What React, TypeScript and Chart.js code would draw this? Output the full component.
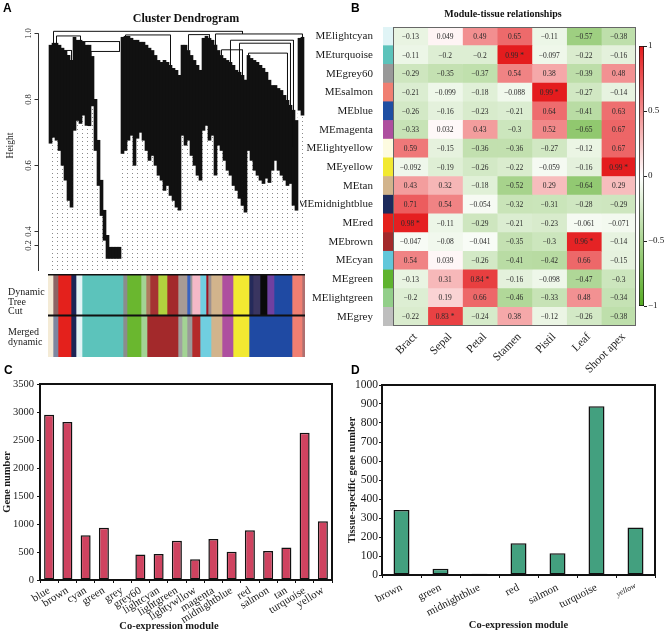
import React, { useEffect, useRef } from 'react';
import { Chart, registerables } from 'chart.js';
Chart.register(...registerables);

const SERIF = '"Liberation Serif", "Times New Roman", serif';
const SANS = '"Liberation Sans", Arial, sans-serif';
Chart.defaults.font.family = SERIF;
Chart.defaults.color = '#1a1a1a';

// ---------------- Panel A: dendrogram (leaf order bins) ----------------
const dendroHi = [
  0.964, 0.97, 0.97, 0.964, 0.955, 0.948, 0.933, 0.918,
  0.988, 0.979, 0.979, 0.973, 0.964, 0.964,
  0.93, 0.8, 0.676, 0.555, 0.464, 0.388, 0.352, 0.352, 0.352, 0.352,
  0.988, 0.991, 0.991, 0.985, 0.979, 0.979, 0.973, 0.973, 0.964, 0.955,
  0.948, 0.933, 0.918, 0.912, 0.918, 0.912, 0.903, 0.894, 0.888, 0.873,
  0.964, 0.964, 0.948, 0.933, 0.918, 0.903, 0.888,
  0.985, 0.991, 0.985, 0.979, 0.964, 0.948,
  0.933, 0.924, 0.918, 0.912, 0.903, 0.888, 0.882, 0.873, 0.858,
  0.933, 0.924, 0.918, 0.912, 0.903, 0.894, 0.882, 0.858, 0.842,
  0.842, 0.833, 0.827, 0.812, 0.797, 0.782, 0.767, 0.736,
  0.985, 0.988,
];
const dendroLo = [
  0.667, 0.685, 0.676, 0.645, 0.6, 0.555, 0.494, 0.473,
  0.706, 0.736, 0.727, 0.752, 0.721, 0.72,
  0.78, 0.645, 0.539, 0.448, 0.373, 0.318, 0.318, 0.318, 0.318, 0.318,
  0.636, 0.645, 0.676, 0.691, 0.6, 0.682, 0.7, 0.676, 0.645, 0.615,
  0.63, 0.6, 0.57, 0.555, 0.524, 0.539, 0.509, 0.494, 0.473, 0.464,
  0.691, 0.661, 0.676, 0.63, 0.6, 0.57, 0.555,
  0.706, 0.721, 0.676, 0.691, 0.57, 0.661,
  0.645, 0.615, 0.585, 0.57, 0.539, 0.524, 0.5, 0.479, 0.458,
  0.645, 0.615, 0.585, 0.57, 0.555, 0.545, 0.561, 0.548, 0.585,
  0.615, 0.585, 0.57, 0.555, 0.539, 0.545, 0.479, 0.464,
  0.767, 0.752,
];
// merges: [leftLeaf, rightLeaf, height, leftChildHeight, rightChildHeight]
const dendroMerges = [
  [1, 64, 1.006, 0.97, 0.998],
  [55, 84, 0.998, 0.964, 0.988],
  [2, 10, 0.992, 0.97, 0.979],
  [4, 7, 0.948, 0.94, 0.918],
  [10, 23, 0.975, 0.964, 0.945],
  [13.5, 23, 0.945, 0.93, 0.945],
  [25, 40, 0.995, 0.991, 0.903],
  [46, 53, 0.996, 0.948, 0.985],
  [57, 64, 0.95, 0.933, 0.873],
  [60, 81, 0.979, 0.912, 0.655],
  [63, 80, 0.97, 0.882, 0.782],
  [66, 79, 0.94, 0.933, 0.797],
];
const dendroTickValues = [1.0, 0.8, 0.6, 0.4, 0.36];
const dendroTickLabels = ['1.0', '0.8', '0.6', '0.4', '0.2'];
const dendroMin = 0.28;
const dendroMax = 1.01;

const treeCutModuleColors = ['#f4ebd6', '#8c6464', '#e4211c', '#1c2456', '#e4f4f6', '#5cc3bb', '#8c8c8c', '#6ab72f', '#a3d394', '#b07a5e', '#a53232', '#b2d23e', '#a3292b', '#a99b95', '#3a62c0', '#9a9a9a', '#f5b8c7', '#70cfe0', '#a0121e', '#9a9090', '#d2b48c', '#ae4f9f', '#f2e931', '#252a5a', '#3a3560', '#0a0a0a', '#7040a0', '#1f4aa3', '#f07f72', '#b07070'];
const treeCutModuleSizes = [5, 5, 13, 5, 6, 41, 4, 14, 5, 4, 8, 9, 11, 9, 3, 2, 8, 6, 2, 3, 11, 11, 16, 4, 7, 7, 7, 18, 10, 3];
const mergedModuleColors = ['#f4ebd6', '#7d86a0', '#e4211c', '#1c2456', '#e4f4f6', '#5cc3bb', '#8c8c8c', '#6ab72f', '#a3d394', '#a3292b', '#a0a0a0', '#a3d394', '#9a9a9a', '#b32a2a', '#70cfe0', '#d2b48c', '#ae4f9f', '#f2e931', '#1f4aa3', '#f07f72', '#b07070'];
const mergedModuleSizes = [5, 5, 13, 5, 6, 41, 4, 14, 6, 31, 4, 5, 5, 8, 11, 11, 11, 16, 43, 10, 3];

// ---------------- Panel B: module–tissue heatmap ----------------
const heatRows = ['MElightcyan', 'MEturquoise', 'MEgrey60', 'MEsalmon', 'MEblue', 'MEmagenta', 'MElightyellow', 'MEyellow', 'MEtan', 'MEmidnightblue', 'MEred', 'MEbrown', 'MEcyan', 'MEgreen', 'MElightgreen', 'MEgrey'];
const heatRowColors = ['#e0f4f6', '#5cc3bb', '#999999', '#f07f72', '#1f4fa3', '#ae4f9f', '#fdfbe0', '#f2e931', '#d2b48c', '#1c2a5c', '#e4211c', '#a3292b', '#62c7da', '#5fb42e', '#93cf8a', '#bebebe'];
const tissues = ['Bract', 'Sepal', 'Petal', 'Stamen', 'Pistil', 'Leaf', 'Shoot apex'];
const corBract = [-0.13, -0.11, -0.29, -0.21, -0.26, -0.33, 0.59, -0.092, 0.43, 0.71, 0.98, -0.047, 0.54, -0.13, -0.2, -0.22];
const corSepal = [0.049, -0.2, -0.35, -0.099, -0.16, 0.032, -0.15, -0.19, 0.32, 0.54, -0.11, -0.08, 0.039, 0.31, 0.19, 0.83];
const corPetal = [0.49, -0.2, -0.37, -0.18, -0.23, 0.43, -0.36, -0.26, -0.18, -0.054, -0.29, -0.041, -0.26, 0.84, 0.66, -0.24];
const corStamen = [0.65, 0.99, 0.54, -0.088, -0.21, -0.3, -0.36, -0.22, -0.52, -0.32, -0.21, -0.35, -0.41, -0.16, -0.46, 0.38];
const corPistil = [-0.11, -0.097, 0.38, 0.99, 0.64, 0.52, -0.27, -0.059, 0.29, -0.31, -0.23, -0.3, -0.42, -0.098, -0.33, -0.12];
const corLeaf = [-0.57, -0.22, -0.39, -0.27, -0.41, -0.65, -0.12, -0.16, -0.64, -0.28, -0.061, 0.96, 0.66, -0.47, 0.48, -0.26];
const corShootApex = [-0.38, -0.16, 0.48, -0.14, 0.63, 0.67, 0.67, 0.99, 0.29, -0.29, -0.071, -0.14, -0.15, -0.3, -0.34, -0.38];
const corByTissue = [corBract, corSepal, corPetal, corStamen, corPistil, corLeaf, corShootApex];
const significantThreshold = 0.8;
const legendTicks = [-1, -0.5, 0, 0.5, 1];

// ---------------- Panel C ----------------
const cModules = ['blue', 'brown', 'cyan', 'green', 'grey', 'grey60', 'lightcyan', 'lightgreen', 'lightywllow', 'magenta', 'midnightblue', 'red', 'salmon', 'tan', 'turquoise', 'yellow'];
const cGeneCounts = [2950, 2820, 800, 935, 5, 455, 465, 700, 370, 730, 505, 890, 520, 580, 2630, 1050];

// ---------------- Panel D ----------------
const dModules = ['brown', 'green', 'midnightblue', 'red', 'salmon', 'turquoise', 'yellow'];
const dTissueCounts = [342, 33, 6, 167, 114, 888, 250];

// ---------------- helpers ----------------
const RED = [228, 26, 28];
const GREEN = [85, 170, 34];
function corColor(v: number) {
  const t = Math.min(1, Math.abs(v));
  const c = v >= 0 ? RED : GREEN;
  const m = c.map((ch) => Math.round(255 + (ch - 255) * t));
  return `rgb(${m[0]},${m[1]},${m[2]})`;
}
function fmtCor(v: number) {
  const s = v < 0 ? '\u2212' + String(-v) : String(v);
  return Math.abs(v) >= significantThreshold ? s + ' *' : s;
}
function fmtLegend(v: number) {
  return v < 0 ? '\u2212' + String(-v) : String(v);
}
const plainNumber = (v: any) => String(v);
const STRIP = 0.29;

const dendroAxisPlugin = {
  id: 'dendroAxis',
  afterDraw(chart: any) {
    const { ctx, chartArea } = chart;
    const y = chart.scales.y;
    const x0 = Math.round(chartArea.left) + 0.5;
    ctx.save();
    ctx.strokeStyle = '#333';
    ctx.lineWidth = 1;
    ctx.beginPath();
    ctx.moveTo(x0, y.getPixelForValue(dendroTickValues[0]));
    ctx.lineTo(x0, chartArea.bottom);
    ctx.stroke();
    ctx.font = `8.5px ${SERIF}`;
    ctx.fillStyle = '#222';
    ctx.textAlign = 'center';
    ctx.textBaseline = 'middle';
    dendroTickValues.forEach((v, i) => {
      const py = Math.round(y.getPixelForValue(v)) + 0.5;
      ctx.beginPath();
      ctx.moveTo(x0 - 4, py);
      ctx.lineTo(x0, py);
      ctx.stroke();
      ctx.save();
      ctx.translate(x0 - 10, py);
      ctx.rotate(-Math.PI / 2);
      ctx.fillText(dendroTickLabels[i], 0, 0);
      ctx.restore();
    });
    ctx.font = `9.5px ${SERIF}`;
    ctx.translate(10, y.getPixelForValue(0.66));
    ctx.rotate(-Math.PI / 2);
    ctx.fillText('Height', 0, 0);
    ctx.restore();
  },
};

const cutLinesPlugin = {
  id: 'cutLines',
  afterDatasetsDraw(chart: any) {
    const { ctx, chartArea } = chart;
    const y = chart.scales.y;
    const mid = (y.getPixelForValue(0) + y.getPixelForValue(1)) / 2;
    ctx.save();
    ctx.strokeStyle = '#111';
    ctx.lineWidth = 1.5;
    ctx.beginPath();
    ctx.moveTo(chartArea.left, chartArea.top + 0.75);
    ctx.lineTo(chartArea.right, chartArea.top + 0.75);
    ctx.stroke();
    ctx.lineWidth = 2;
    ctx.beginPath();
    ctx.moveTo(chartArea.left, mid);
    ctx.lineTo(chartArea.right, mid);
    ctx.stroke();
    ctx.restore();
  },
};

const heatPlugin = {
  id: 'heatText',
  afterDatasetsDraw(chart: any) {
    const { ctx, chartArea } = chart;
    const x = chart.scales.x;
    ctx.save();
    ctx.font = `7.5px ${SERIF}`;
    ctx.fillStyle = '#2a2a2a';
    ctx.textAlign = 'center';
    ctx.textBaseline = 'middle';
    corByTissue.forEach((col, i) => {
      const meta = chart.getDatasetMeta(i + 1);
      meta.data.forEach((el: any, j: number) => {
        const cx = (el.x + el.base) / 2;
        ctx.fillText(fmtCor(col[j]), cx, el.y + 0.5);
      });
    });
    const xl = Math.round(x.getPixelForValue(STRIP)) + 0.5;
    const xr = Math.round(x.getPixelForValue(STRIP + tissues.length)) - 0.5;
    ctx.strokeStyle = '#666';
    ctx.lineWidth = 1;
    ctx.strokeRect(xl, Math.round(chartArea.top) + 0.5, xr - xl, Math.round(chartArea.bottom - chartArea.top) - 1);
    ctx.font = `11.5px ${SERIF}`;
    ctx.fillStyle = '#1a1a1a';
    ctx.textAlign = 'right';
    tissues.forEach((t, i) => {
      const cx = x.getPixelForValue(STRIP + i + 0.5);
      ctx.save();
      ctx.translate(cx + 5, chartArea.bottom + 9);
      ctx.rotate(-Math.PI / 4);
      ctx.fillText(t, 0, 0);
      ctx.restore();
    });
    ctx.restore();
  },
};

function frameAxes() {
  return {
    x2: { type: 'linear', position: 'top', display: true, grid: { display: false }, ticks: { display: false }, border: { color: '#111', width: 2 }, afterFit: (s: any) => { s.height = 0; } },
    y2: { type: 'linear', position: 'right', display: true, grid: { display: false }, ticks: { display: false }, border: { color: '#111', width: 2 }, afterFit: (s: any) => { s.width = 0; } },
  };
}

export default function App() {
  const dendroRef = useRef<HTMLCanvasElement>(null);
  const cutRef = useRef<HTMLCanvasElement>(null);
  const heatRef = useRef<HTMLCanvasElement>(null);
  const legendRef = useRef<HTMLCanvasElement>(null);
  const cRef = useRef<HTMLCanvasElement>(null);
  const dRef = useRef<HTMLCanvasElement>(null);

  useEffect(() => {
    const charts: Chart[] = [];

    // --- dendrogram ---
    const dc = dendroRef.current!;
    const pc = document.createElement('canvas');
    pc.width = 5;
    pc.height = 4;
    const pg = pc.getContext('2d')!;
    pg.fillStyle = '#8a8a8a';
    pg.fillRect(2, 1, 1, 1);
    const dotPattern = dc.getContext('2d')!.createPattern(pc, 'repeat');
    const mergePoints: any[] = [];
    dendroMerges.forEach(([xl, xr, h, dl, dr]) => {
      mergePoints.push({ x: xl, y: dl }, { x: xl, y: h }, { x: xr, y: h }, { x: xr, y: dr }, { x: xr, y: null });
    });
    charts.push(new Chart(dc, {
      type: 'bar',
      data: {
        datasets: [
          { type: 'line', data: mergePoints, borderColor: '#111', borderWidth: 1, pointRadius: 0, spanGaps: false, tension: 0 } as any,
          { data: dendroHi.map((h, i) => ({ x: i, y: [dendroLo[i], h] })), backgroundColor: '#111', borderWidth: 0, grouped: false, barPercentage: 1, categoryPercentage: 1 } as any,
          { data: dendroLo.map((l, i) => ({ x: i, y: [dendroMin, l] })), backgroundColor: dotPattern, borderWidth: 0, grouped: false, barPercentage: 1, categoryPercentage: 1 } as any,
        ],
      },
      options: {
        animation: false, responsive: false, maintainAspectRatio: false,
        layout: { padding: { left: 38, right: 27, top: 30, bottom: 1 } },
        plugins: { legend: { display: false }, tooltip: { enabled: false } },
        scales: {
          x: { type: 'linear', min: -4.17, max: 85.17, offset: false, display: false },
          y: { min: dendroMin, max: dendroMax, display: false },
        },
      },
      plugins: [dendroAxisPlugin],
    } as any));

    // --- tree cut colour bars ---
    const cutSets: any[] = [];
    treeCutModuleSizes.forEach((w, i) => cutSets.push({ data: [w, null], backgroundColor: treeCutModuleColors[i], borderWidth: 0, barPercentage: 1, categoryPercentage: 1, stack: 's' }));
    mergedModuleSizes.forEach((w, i) => cutSets.push({ data: [null, w], backgroundColor: mergedModuleColors[i], borderWidth: 0, barPercentage: 1, categoryPercentage: 1, stack: 's' }));
    charts.push(new Chart(cutRef.current!, {
      type: 'bar',
      data: { labels: ['Dynamic Tree Cut', 'Merged dynamic'], datasets: cutSets },
      options: {
        indexAxis: 'y', animation: false, responsive: false, maintainAspectRatio: false,
        layout: { padding: { left: 48, right: 28, top: 2, bottom: 3 } },
        plugins: { legend: { display: false }, tooltip: { enabled: false } },
        scales: {
          x: { type: 'linear', min: 0, max: 257, stacked: true, display: false },
          y: { type: 'category', stacked: true, offset: true, display: false },
        },
      },
      plugins: [cutLinesPlugin],
    } as any));

    // --- heatmap ---
    const heatSets: any[] = [
      { data: heatRows.map(() => STRIP), backgroundColor: heatRowColors, borderWidth: 0, barPercentage: 1, categoryPercentage: 1, stack: 'h' },
      ...tissues.map((t, i) => ({ label: t, data: heatRows.map(() => 1), backgroundColor: corByTissue[i].map(corColor), borderWidth: 0, barPercentage: 1, categoryPercentage: 1, stack: 'h' })),
    ];
    charts.push(new Chart(heatRef.current!, {
      type: 'bar',
      data: { labels: heatRows, datasets: heatSets },
      options: {
        indexAxis: 'y', animation: false, responsive: false, maintainAspectRatio: false,
        layout: { padding: { left: 0, right: 1, top: 27, bottom: 49 } },
        plugins: { legend: { display: false }, tooltip: { enabled: false } },
        scales: {
          x: { type: 'linear', min: 0, max: STRIP + tissues.length, stacked: true, display: false },
          y: {
            type: 'category', stacked: true, offset: true,
            grid: { display: false }, border: { display: false },
            ticks: { font: { family: SERIF, size: 11 }, color: '#1a1a1a', padding: 2, autoSkip: false },
            afterFit: (s: any) => { s.width = 83; },
          },
        },
      },
      plugins: [heatPlugin],
    } as any));

    // --- colour legend ---
    charts.push(new Chart(legendRef.current!, {
      type: 'bar',
      data: {
        labels: [''],
        datasets: [{
          data: [[legendTicks[0], legendTicks[legendTicks.length - 1]]],
          backgroundColor: (c: any) => {
            const chart = c.chart;
            if (!chart.chartArea) return '#fff';
            const y = chart.scales.y;
            const g = chart.ctx.createLinearGradient(0, y.getPixelForValue(1), 0, y.getPixelForValue(-1));
            g.addColorStop(0, corColor(1));
            g.addColorStop(0.25, corColor(0.5));
            g.addColorStop(0.5, '#ffffff');
            g.addColorStop(0.75, corColor(-0.5));
            g.addColorStop(1, corColor(-1));
            return g;
          },
          borderColor: '#111', borderWidth: 1, borderSkipped: false, barPercentage: 1, categoryPercentage: 1,
        }],
      },
      options: {
        animation: false, responsive: false, maintainAspectRatio: false,
        layout: { padding: { left: 3, right: 0, top: 46, bottom: 14 } },
        plugins: { legend: { display: false }, tooltip: { enabled: false } },
        scales: {
          x: { display: false },
          y: {
            position: 'right', min: -1, max: 1,
            afterBuildTicks: (s: any) => { s.ticks = legendTicks.map((v) => ({ value: v })); },
            ticks: { font: { family: SERIF, size: 9 }, color: '#1a1a1a', padding: 1, callback: (v: any) => fmtLegend(Number(v)) },
            grid: { drawOnChartArea: false, tickLength: 3, color: '#222' },
            border: { display: false },
            afterFit: (s: any) => { s.width = 22; },
          },
        },
      },
    } as any));

    // --- panel C ---
    charts.push(new Chart(cRef.current!, {
      type: 'bar',
      data: { labels: cModules, datasets: [{ data: cGeneCounts, backgroundColor: '#cf4360', borderColor: '#111', borderWidth: 1.5, borderSkipped: false, barPercentage: 0.55, categoryPercentage: 1 }] },
      options: {
        animation: false, responsive: false, maintainAspectRatio: false,
        layout: { padding: { left: 0, right: 1, top: 12, bottom: 0 } },
        plugins: { legend: { display: false }, tooltip: { enabled: false } },
        scales: {
          x: {
            grid: { display: true, drawOnChartArea: false, tickLength: 3, color: '#111' },
            border: { color: '#111', width: 2 },
            ticks: { font: { family: SERIF, size: 11 }, color: '#1a1a1a', minRotation: 32, maxRotation: 32, autoSkip: false, padding: 1 },
            afterFit: (s: any) => { s.height = 53; },
          },
          y: {
            min: 0, max: 3500,
            ticks: { stepSize: 500, font: { family: SERIF, size: 10.5 }, color: '#1a1a1a', padding: 3, callback: plainNumber },
            grid: { drawOnChartArea: false, tickLength: 3, color: '#111' },
            border: { color: '#111', width: 2 },
            title: { display: true, text: 'Gene number', font: { family: SERIF, size: 10.5, weight: 'bold' }, color: '#1a1a1a', padding: { top: 1, bottom: 0 } },
            afterFit: (s: any) => { s.width = 40; },
          },
          ...frameAxes(),
        },
      },
    } as any));

    // --- panel D ---
    charts.push(new Chart(dRef.current!, {
      type: 'bar',
      data: { labels: dModules, datasets: [{ data: dTissueCounts, backgroundColor: '#43a07f', borderColor: '#111', borderWidth: 1.5, borderSkipped: false, barPercentage: 0.41, categoryPercentage: 1 }] },
      options: {
        animation: false, responsive: false, maintainAspectRatio: false,
        layout: { padding: { left: 9, right: 11, top: 13, bottom: 0 } },
        plugins: { legend: { display: false }, tooltip: { enabled: false } },
        scales: {
          x: {
            grid: { display: true, drawOnChartArea: false, tickLength: 3, color: '#111' },
            border: { color: '#111', width: 2 },
            ticks: {
              font: (c: any) => (c.index === dModules.length - 1 ? { family: SERIF, size: 8, style: 'italic' } : { family: SERIF, size: 11 }),
              color: '#1a1a1a', minRotation: 27, maxRotation: 27, autoSkip: false, padding: 3,
            },
            title: { display: true, text: 'Co-expression module', font: { family: SERIF, size: 10.5, weight: 'bold' }, color: '#1a1a1a', padding: { top: 0, bottom: 1 } },
            afterFit: (s: any) => { s.height = 58; },
          },
          y: {
            min: 0, max: 1000,
            ticks: { stepSize: 100, font: { family: SERIF, size: 11.5 }, color: '#1a1a1a', padding: 1, callback: plainNumber },
            grid: { drawOnChartArea: false, tickLength: 3, color: '#111' },
            border: { color: '#111', width: 2 },
            title: { display: true, text: 'Tissue-specific gene number', font: { family: SERIF, size: 10.5, weight: 'bold' }, color: '#1a1a1a', padding: { top: 4, bottom: 0 } },
            afterFit: (s: any) => { s.width = 40; },
          },
          ...frameAxes(),
        },
      },
    } as any));

    return () => charts.forEach((c) => c.destroy());
  }, []);

  const abs = (l: number, t: number, w: number, h: number): React.CSSProperties => ({ position: 'absolute', left: l, top: t, width: w, height: h });
  const letter = (l: number, t: number): React.CSSProperties => ({ position: 'absolute', left: l, top: t, font: `bold 12px ${SANS}`, color: '#000', lineHeight: '12px' });

  return (
    <div style={{ position: 'fixed', left: 0, top: 0, width: 666, height: 633, background: '#fff', overflow: 'hidden' }}>
      <canvas ref={dendroRef} width={333} height={272} style={abs(0, 0, 333, 272)} />
      <canvas ref={cutRef} width={333} height={88} style={abs(0, 272, 333, 88)} />
      <canvas ref={heatRef} width={337} height={375} style={abs(300, 0, 337, 375)} />
      <canvas ref={legendRef} width={30} height={320} style={abs(636, 0, 30, 320)} />
      <canvas ref={cRef} width={333} height={261} style={abs(0, 372, 333, 261)} />
      <canvas ref={dRef} width={333} height={261} style={abs(333, 372, 333, 261)} />

      <div style={letter(3, 2)}>A</div>
      <div style={letter(351, 2)}>B</div>
      <div style={letter(4, 364)}>C</div>
      <div style={letter(351, 364)}>D</div>

      <div style={{ position: 'absolute', left: 86, top: 11, width: 200, textAlign: 'center', font: `bold 12px ${SERIF}`, lineHeight: '14px', color: '#111' }}>Cluster Dendrogram</div>
      <div style={{ position: 'absolute', left: 403, top: 8, width: 200, textAlign: 'center', font: `bold 10px ${SERIF}`, lineHeight: '12px', color: '#111' }}>Module-tissue relationships</div>
      <div style={{ position: 'absolute', left: 8, top: 287, font: `10px ${SERIF}`, lineHeight: '9.5px', color: '#1a1a1a' }}>Dynamic<br />Tree<br />Cut</div>
      <div style={{ position: 'absolute', left: 8, top: 327, font: `10px ${SERIF}`, lineHeight: '9.5px', color: '#1a1a1a' }}>Merged<br />dynamic</div>
      <div style={{ position: 'absolute', left: 69, top: 620, width: 200, textAlign: 'center', font: `bold 10.5px ${SERIF}`, lineHeight: '12px', color: '#1a1a1a' }}>Co-expression module</div>
    </div>
  );
}
